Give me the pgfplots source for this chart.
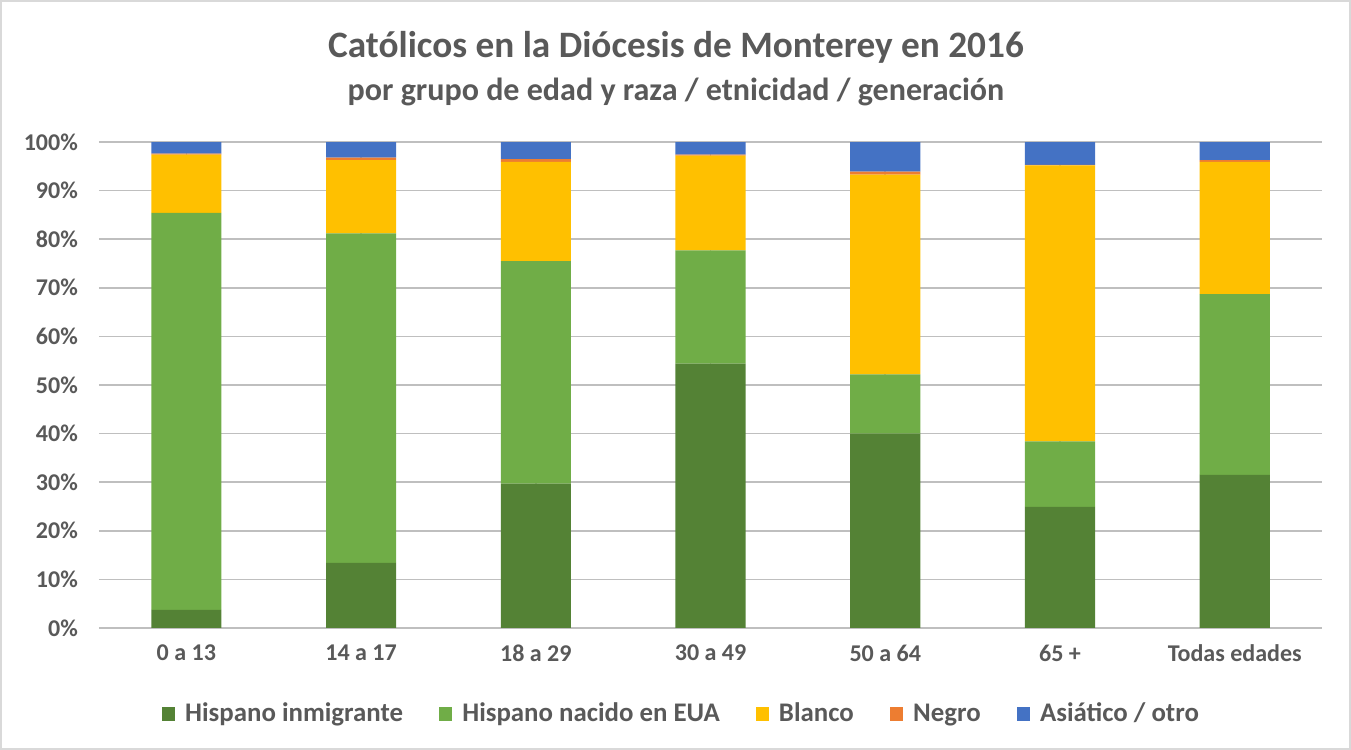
\documentclass[border=0pt]{standalone}
\usepackage{pgfplots}
\pgfplotsset{compat=1.18}
\usepackage{fontspec}
\setmainfont{Carlito}
\definecolor{cImm}{HTML}{548235}
\definecolor{cNac}{HTML}{70AD47}
\definecolor{cBla}{HTML}{FFC000}
\definecolor{cNeg}{HTML}{ED7D31}
\definecolor{cAsi}{HTML}{4472C4}
\definecolor{txt}{HTML}{595959}
\definecolor{grid}{HTML}{D9D9D9}
\begin{document}
\begin{tikzpicture}
\begin{axis}[
  name=ax,
  at={(0,0)}, anchor=south west,
  scale only axis,
  width=610.5pt, height=242.5pt,
  ybar stacked,
  bar width=35pt,
  xmin=-0.5, xmax=6.5,
  ymin=0, ymax=100,
  xtick={0,1,2,3,4,5,6},
  xticklabels={0 a 13,14 a 17,18 a 29,30 a 49,50 a 64,65 +,Todas edades},
  ytick={0,10,...,100},
  yticklabel={\pgfmathprintnumber{\tick}\%},
  /pgf/number format/assume math mode=true,
  ymajorgrids,
  grid style={grid, line width=0.8pt},
  axis line style={draw=none},
  major tick style={draw=none},
  ticklabel style={font=\bfseries\fontsize{12}{13}\selectfont, text=txt},
  xticklabel style={yshift=-5pt},
  yticklabel style={xshift=-7pt},
  legend columns=5,
  legend style={at={(0.477,-0.177)}, anchor=center, draw=none, fill=none,
    font=\bfseries\fontsize{13.4}{15}\selectfont, text=txt,
    /tikz/every odd column/.append style={column sep=3pt},
    /tikz/every even column/.append style={column sep=16pt}},
  legend image code/.code={\fill[#1] (0pt,-3.3pt) rectangle (6.6pt,3.3pt);},
]
\addplot[fill=cImm, draw=none] coordinates {(0,3.7) (1,13.4) (2,29.7) (3,54.4) (4,40.0) (5,24.9) (6,31.5)};
\addplot[fill=cNac, draw=none] coordinates {(0,81.7) (1,67.8) (2,45.8) (3,23.3) (4,12.2) (5,13.5) (6,37.2)};
\addplot[fill=cBla, draw=none] coordinates {(0,12.0) (1,15.1) (2,20.4) (3,19.5) (4,41.1) (5,56.8) (6,27.2)};
\addplot[fill=cNeg, draw=none] coordinates {(0,0.2) (1,0.5) (2,0.6) (3,0.2) (4,0.6) (5,0.1) (6,0.4)};
\addplot[fill=cAsi, draw=none] coordinates {(0,2.4) (1,3.2) (2,3.5) (3,2.6) (4,6.1) (5,4.7) (6,3.7)};
\legend{Hispano inmigrante, Hispano nacido en EUA, Blanco, Negro, Asiático / otro}
\end{axis}
\draw[grid, line width=0.8pt] (-49pt,-60.5pt) rectangle (624.5pt,313pt);
\node[text=txt, font=\bfseries\fontsize{18.6}{22}\selectfont] at (288pt,290pt) {Católicos en la Diócesis de Monterey en 2016};
\node[text=txt, font=\bfseries\fontsize{16}{19}\selectfont] at (288pt,267.5pt) {por grupo de edad y raza / etnicidad / generación};
\end{tikzpicture}
\end{document}
